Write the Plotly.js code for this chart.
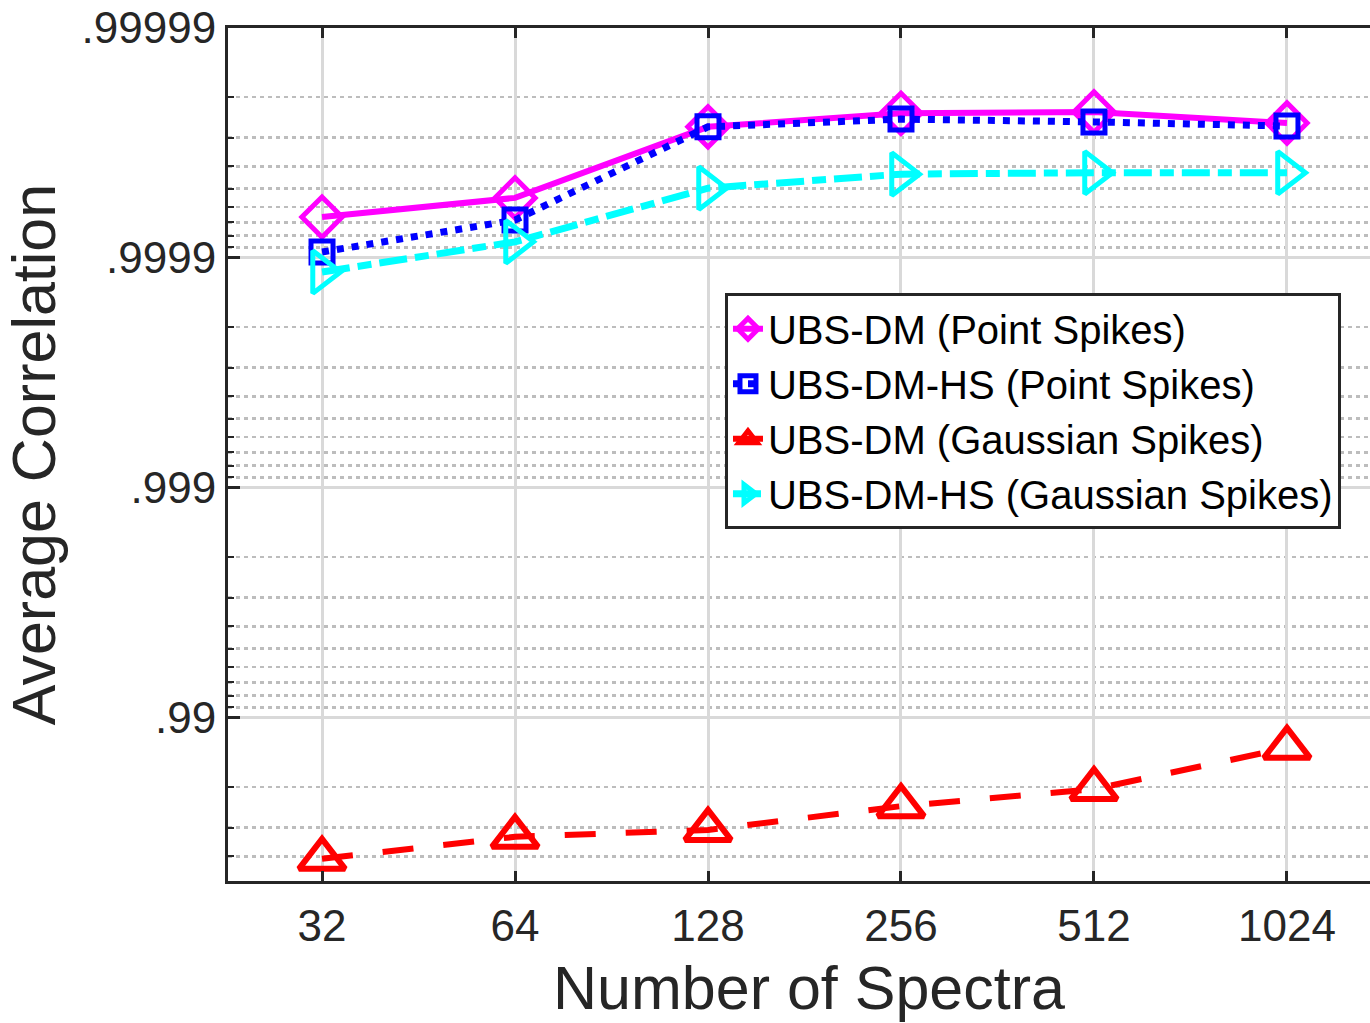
<!DOCTYPE html>
<html>
<head>
<meta charset="utf-8">
<script src="https://cdn.plot.ly/plotly-3.0.1.min.js"></script>
<style>
  html, body { margin: 0; padding: 0; background: #ffffff; overflow: hidden; }
  #chart { width: 1390px; height: 1023px; }
</style>
</head>
<body>
<div id="chart"></div>
<script>
// Number of spectra used per run (log2-spaced)
const spectra = [32, 64, 128, 256, 512, 1024];
const spectraLabels = ['32', '64', '128', '256', '512', '1024'];

// Average correlation for each method / spike type
const dmPoint = [0.9999336, 0.9999452, 0.9999731, 0.9999765, 0.9999768, 0.9999741];
const hsPoint = [0.9999058, 0.9999316, 0.9999731, 0.9999751, 0.9999744, 0.9999733];
const dmGauss = [0.9590, 0.9671, 0.9693, 0.9758, 0.9796, 0.9865];
const hsGauss = [0.9998849, 0.9999149, 0.9999503, 0.9999568, 0.9999574, 0.9999574];

// Correlation axis ticks
const corrTicks = [0.99999, 0.9999, 0.999, 0.99];
const corrTickLabels = ['.99999', '.9999', '.999', '.99'];

// The correlation axis is a log scale of (1 - correlation), flipped so that
// values closer to 1 sit higher.
const gap = arr => arr.map(c => 1 - c);

// minor grid: 2..9 within each decade
const minorVals = [];
for (let e = -5; e <= -2; e++) {
  for (let k = 2; k <= 9; k++) {
    const v = k * Math.pow(10, e);
    if (v < 0.045) minorVals.push(v);
  }
}

const ink = '#262626';
const fontFam = 'Liberation Sans, Arial, Helvetica, sans-serif';

const traces = [
  {
    name: 'UBS-DM (Point Spikes)',
    x: spectra, y: gap(dmPoint),
    mode: 'lines+markers',
    line: {color: '#ff00ff', width: 6},
    marker: {symbol: 'diamond-open', size: 31, color: '#ff00ff', line: {width: 5, color: '#ff00ff'}}
  },
  {
    name: 'UBS-DM-HS (Point Spikes)',
    x: spectra, y: gap(hsPoint),
    mode: 'lines+markers',
    line: {color: '#0000ff', width: 7, dash: '7px,8px'},
    marker: {symbol: 'square-open', size: 22, color: '#0000ff', line: {width: 5, color: '#0000ff'}}
  },
  {
    name: 'UBS-DM (Gaussian Spikes)',
    x: spectra, y: gap(dmGauss),
    mode: 'lines+markers',
    line: {color: '#ff0000', width: 6, dash: '31px,30px'},
    marker: {symbol: 'triangle-up-open', size: 40, color: '#ff0000', line: {width: 6, color: '#ff0000'}}
  },
  {
    name: 'UBS-DM-HS (Gaussian Spikes)',
    x: spectra, y: gap(hsGauss),
    mode: 'lines+markers',
    line: {color: '#00ffff', width: 7, dash: '28px,8px,14px,8px'},
    marker: {symbol: 'triangle-right-open', size: 37, color: '#00ffff', line: {width: 5, color: '#00ffff'}}
  }
];

const layout = {
  width: 1390,
  height: 1023,
  margin: {l: 228, r: 0, t: 28, b: 142, pad: 0},
  paper_bgcolor: '#ffffff',
  plot_bgcolor: '#ffffff',
  font: {family: fontFam, color: ink},
  showlegend: true,
  legend: {
    x: 0.4277, y: 0.689, xanchor: 'left', yanchor: 'top',
    bgcolor: '#ffffff', bordercolor: ink, borderwidth: 3,
    font: {size: 40, color: '#000000', family: fontFam},
    tracegroupgap: 0
  },
  xaxis: {
    type: 'log',
    range: [1.3585, 3.171],
    tickmode: 'array',
    tickvals: spectra,
    ticktext: spectraLabels,
    ticks: 'inside', ticklen: 10, tickwidth: 3, tickcolor: ink,
    showline: true, linewidth: 3, linecolor: ink, mirror: 'ticks',
    showgrid: true, gridcolor: '#d9d9d9', gridwidth: 3,
    zeroline: false,
    tickfont: {size: 44, color: ink},
    ticklabelstandoff: 4,
    title: {text: 'Number of Spectra', font: {size: 61, color: ink}, standoff: 18},
    automargin: false
  },
  yaxis: {
    type: 'log',
    range: [Math.log10(0.0512), -5],
    tickmode: 'array',
    tickvals: gap(corrTicks),
    ticktext: corrTickLabels,
    ticks: 'inside', ticklen: 12, tickwidth: 3, tickcolor: ink,
    showline: true, linewidth: 3, linecolor: ink, mirror: 'ticks',
    showgrid: true, gridcolor: '#d9d9d9', gridwidth: 3,
    zeroline: false,
    tickfont: {size: 44, color: ink},
    ticklabelstandoff: 0,
    minor: {
      tickmode: 'array',
      tickvals: minorVals,
      ticks: 'inside', ticklen: 6, tickwidth: 2, tickcolor: ink,
      showgrid: true, gridcolor: '#bdbdbd', gridwidth: 2.5, griddash: '4px,4px'
    },
    title: {text: 'Average Correlation', font: {size: 61, color: ink}, standoff: 18},
    automargin: false
  }
};

Plotly.newPlot('chart', traces, layout, {displayModeBar: false, staticPlot: true});
</script>
</body>
</html>
